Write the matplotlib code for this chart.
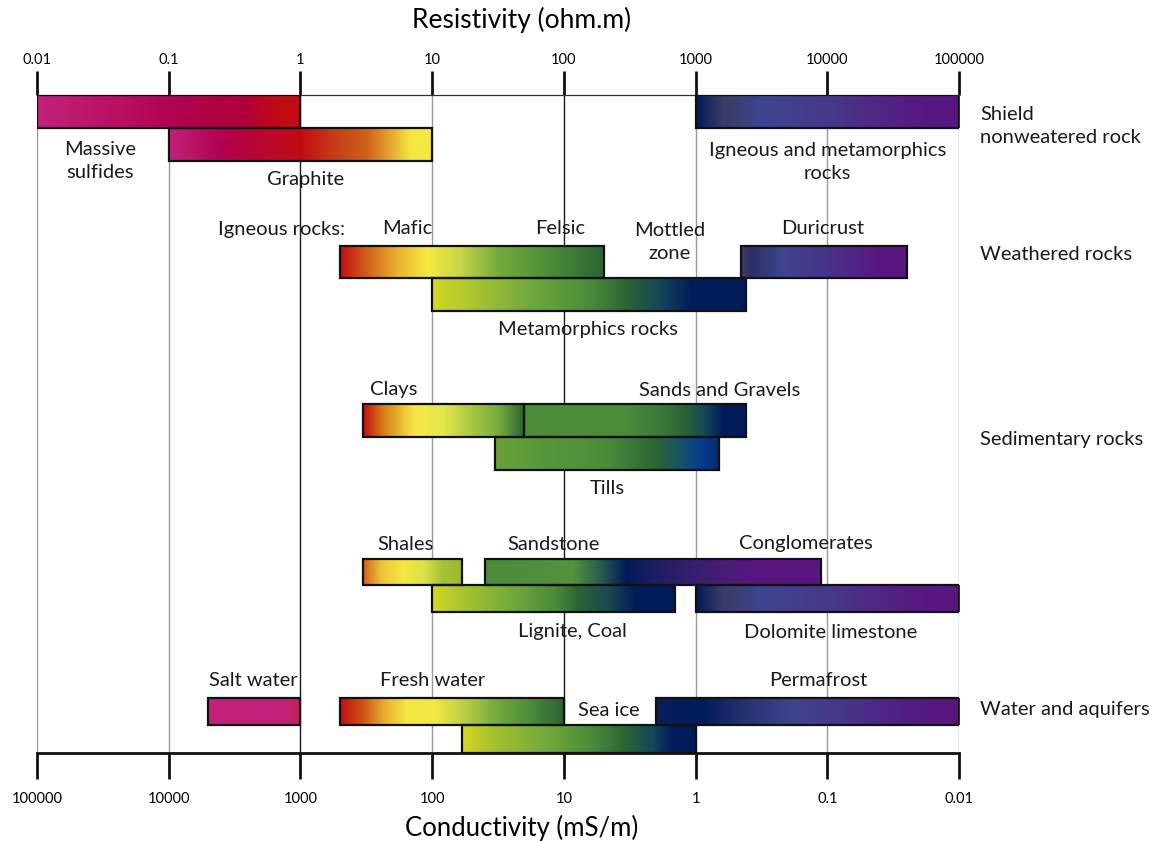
import numpy as np
import matplotlib.pyplot as plt
from matplotlib.colors import LinearSegmentedColormap
from matplotlib.patches import Rectangle

plt.rcParams['font.family'] = ['Lato', 'DejaVu Sans']

# Resistivity ranges (ohm.m) for each material
materials = ['Massive sulfides', 'Graphite', 'Igneous and metamorphics',
             'Igneous (mafic-felsic)', 'Duricrust', 'Metamorphics rocks',
             'Clays', 'Sands and Gravels', 'Tills',
             'Shales', 'Sandstone-Conglomerates', 'Lignite, Coal', 'Dolomite limestone',
             'Salt water', 'Fresh water', 'Sea ice', 'Permafrost']
res_low = [0.01, 0.1, 1000,
           2, 2200, 10,
           3, 50, 30,
           3, 25, 10, 1000,
           0.2, 2, 17, 500]
res_high = [1, 10, 100000,
            200, 40000, 2400,
            50, 2400, 1500,
            17, 9000, 700, 100000,
            1, 100, 1000, 100000]

groups = ['Shield\nnonweatered rock', 'Weathered rocks', 'Sedimentary rocks', 'Water and aquifers']

res_ticks = [0.01, 0.1, 1, 10, 100, 1000, 10000, 100000]
res_labels = ['0.01', '0.1', '1', '10', '100', '1000', '10000', '100000']
cond_labels = ['100000', '10000', '1000', '100', '10', '1', '0.1', '0.01']

# vertical slot (top, bottom) of every bar, in figure pixel rows
rows = [(95, 128), (128, 161), (95, 128),
        (246, 278), (246, 278), (278, 311),
        (404, 437), (404, 437), (437, 470),
        (559, 585), (559, 585), (585, 612), (585, 612),
        (698, 725), (698, 725), (725, 753), (698, 725)]

# colour ramps
C_MAG = '#c2217a'
C_CRIM = '#b0024f'
C_RED = '#c20c12'
C_ORA = '#d0601a'
C_YEL = '#f5e842'
C_YG = '#d4d824'
C_LG = '#74ab3d'
C_G = '#4b8c3a'
C_DG = '#2c6434'
C_TEAL = '#13465a'
C_NAVY = '#011b5a'
C_SLATE = '#3a3c66'
C_BLUE = '#3e4490'
C_PUR = '#5a1680'

ramps = [
    [(0, C_MAG), (0.55, C_CRIM), (0.8, '#b20038'), (0.92, C_RED), (1, C_RED)],
    [(0, C_MAG), (0.2, C_CRIM), (0.5, C_RED), (0.62, '#c43a18'), (0.75, C_ORA), (0.92, C_YEL), (1, C_YEL)],
    [(0, C_NAVY), (0.1, C_SLATE), (0.25, C_BLUE), (0.5, '#47398a'), (0.8, '#561c82'), (1, C_PUR)],
    [(0, C_RED), (0.1, C_ORA), (0.22, '#eab430'), (0.33, C_YEL), (0.45, '#c8d848'), (0.6, C_LG),
     (0.8, C_G), (1, C_DG)],
    [(0, C_SLATE), (0.06, '#2c3064'), (0.25, C_BLUE), (0.6, '#4c2c88'), (0.85, C_PUR), (1, C_PUR)],
    [(0, C_YG), (0.15, '#a4c234'), (0.3, C_LG), (0.5, C_G), (0.62, C_DG), (0.73, C_TEAL), (0.83, C_NAVY),
     (1, C_NAVY)],
    [(0, C_RED), (0.12, '#d47a14'), (0.25, '#ecc436'), (0.33, C_YEL), (0.5, '#e4e64c'), (0.7, '#a0c440'),
     (0.85, C_LG), (1, C_DG)],
    [(0, C_G), (0.45, C_G), (0.62, '#3a7838'), (0.72, C_DG), (0.82, C_TEAL), (0.9, C_NAVY), (1, C_NAVY)],
    [(0, '#6aa23a'), (0.2, '#58983c'), (0.5, C_G), (0.72, C_DG), (0.85, '#144e72'), (0.93, '#043a8c'),
     (1, '#0a2c72')],
    [(0, C_ORA), (0.18, '#ecc436'), (0.4, C_YEL), (0.6, '#dce24a'), (0.8, '#a8c234'), (1, '#9ab832')],
    [(0, C_G), (0.26, '#54923a'), (0.34, '#2a5e50'), (0.42, C_NAVY), (0.5, '#1c1e62'), (0.65, '#3e1e72'),
     (0.8, C_PUR), (1, C_PUR)],
    [(0, C_YG), (0.15, '#a0c030'), (0.32, C_LG), (0.5, C_G), (0.6, C_DG), (0.72, '#1a4a50'), (0.84, C_NAVY),
     (1, C_NAVY)],
    [(0, C_NAVY), (0.1, C_SLATE), (0.25, C_BLUE), (0.5, '#47398a'), (0.8, '#561c82'), (1, C_PUR)],
    [(0, C_MAG), (0.85, C_MAG), (1, '#c6204e')],
    [(0, C_RED), (0.1, '#cc5412'), (0.2, '#e8b030'), (0.3, C_YEL), (0.42, C_YEL), (0.55, '#bcd044'),
     (0.7, C_LG), (0.85, C_G), (1, C_DG)],
    [(0, C_YG), (0.15, '#a0c030'), (0.35, C_LG), (0.55, C_G), (0.7, C_DG), (0.82, C_TEAL), (0.9, C_NAVY),
     (1, C_NAVY)],
    [(0, '#0a1e5a'), (0.15, C_NAVY), (0.28, '#24306e'), (0.45, C_BLUE), (0.6, '#45388a'), (0.82, '#521e82'),
     (1, C_PUR)],
]

W, H = 1153, 841
fig = plt.figure(figsize=(W / 100, H / 100), dpi=100)
ax = fig.add_axes([37 / W, 1 - 753 / H, (959 - 37) / W, (753 - 95) / H])
ax.set_xlim(-2, 5)
ax.set_ylim(753, 95)

# grid lines at every decade
for t in res_ticks:
    lx = np.log10(t)
    col = '#1a1a1a' if t in (1, 100) else '#9a9a9a'
    ax.axvline(lx, color=col, lw=1.0, zorder=1)

# gradient bars
grad = np.linspace(0, 1, 256).reshape(1, -1)
for lo, hi, (top, bot), ramp in zip(res_low, res_high, rows, ramps):
    x0, x1 = np.log10(lo), np.log10(hi)
    cmap = LinearSegmentedColormap.from_list('bar', ramp)
    ax.imshow(grad, cmap=cmap, aspect='auto', extent=[x0, x1, bot, top],
              interpolation='bilinear', zorder=2)
    ax.add_patch(Rectangle((x0, top), x1 - x0, bot - top, fill=False,
                           edgecolor='#111111', lw=1.6, zorder=3))
ax.set_xlim(-2, 5)
ax.set_ylim(753, 95)

# axes frame
for side in ['left', 'right']:
    ax.spines[side].set_visible(False)
ax.spines['top'].set_linewidth(0.9)
ax.spines['top'].set_color('#333333')
ax.spines['bottom'].set_linewidth(2.0)
ax.spines['bottom'].set_color('#111111')
ax.set_yticks([])

ax.set_xticks(np.log10(res_ticks))
ax.set_xticklabels(cond_labels, fontsize=10.5)
ax.tick_params(axis='x', direction='out', length=19, width=2, pad=9, color='#111111')

top = ax.secondary_xaxis('top')
top.set_xticks(np.log10(res_ticks))
top.set_xticklabels(res_labels, fontsize=10.5)
top.tick_params(direction='out', length=17, width=2, pad=3, color='#111111')
top.spines['top'].set_visible(False)

fig.text(522 / W, 1 - 20 / H, 'Resistivity (ohm.m)', ha='center', va='center', fontsize=19)
fig.text(522 / W, 1 - 828 / H, 'Conductivity (mS/m)', ha='center', va='center', fontsize=18.5)

# material labels (x in log10 resistivity, y in pixel rows)
labels = [
    ('Massive\nsulfides', -1.522, 161, 'center'),
    ('Graphite', 0.042, 179, 'center'),
    ('Igneous and metamorphics\nrocks', 4.0, 162, 'center'),
    ('Igneous rocks:', 0.34, 229, 'right'),
    ('Mafic', 0.809, 229, 'center'),
    ('Felsic', 1.971, 229, 'center'),
    ('Mottled\nzone', 2.806, 242, 'center'),
    ('Duricrust', 3.968, 229, 'center'),
    ('Metamorphics rocks', 2.183, 329, 'center'),
    ('Clays', 0.711, 390, 'center'),
    ('Sands and Gravels', 3.186, 390, 'center'),
    ('Tills', 2.328, 489, 'center'),
    ('Shales', 0.794, 544, 'center'),
    ('Sandstone', 1.925, 544, 'center'),
    ('Conglomerates', 3.838, 544, 'center'),
    ('Lignite, Coal', 2.062, 632, 'center'),
    ('Dolomite limestone', 4.028, 632, 'center'),
    ('Salt water', -0.36, 681, 'center'),
    ('Fresh water', 1.007, 681, 'center'),
    ('Permafrost', 3.93, 681, 'center'),
    ('Sea ice', 2.343, 710, 'center'),
]
for txt, lx, py, ha in labels:
    ax.text(lx, py, txt, ha=ha, va='center', fontsize=14.5, linespacing=1.45,
            color='#1a1a1a', zorder=4)

group_y = [126, 254, 439, 710]
for g, py in zip(groups, group_y):
    ax.text(5.16, py, g, ha='left', va='center', fontsize=14.5, linespacing=1.45,
            color='#1a1a1a', clip_on=False)

fig.savefig('out.png', dpi=100)
